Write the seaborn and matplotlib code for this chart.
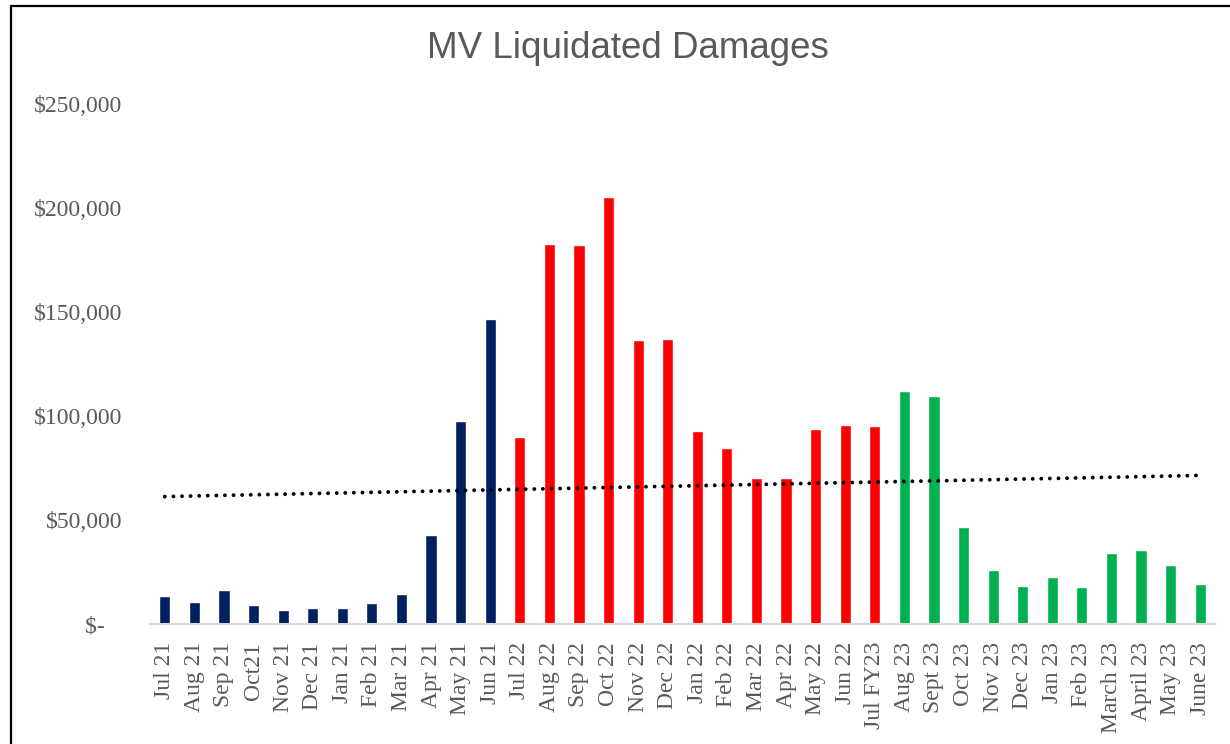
import numpy as np
import pandas as pd
import matplotlib
matplotlib.use("Agg")
import matplotlib.pyplot as plt
from matplotlib.lines import Line2D
from matplotlib.ticker import FuncFormatter
import seaborn as sns

# month labels as shown on the x axis
months = ['Jul 21', 'Aug 21', 'Sep 21', 'Oct21', 'Nov 21', 'Dec 21', 'Jan 21', 'Feb 21',
          'Mar 21', 'Apr 21', 'May 21', 'Jun 21',
          'Jul 22', 'Aug 22', 'Sep 22', 'Oct 22', 'Nov 22', 'Dec 22', 'Jan 22', 'Feb 22',
          'Mar 22', 'Apr 22', 'May 22', 'Jun 22', 'Jul FY23',
          'Aug 23', 'Sept 23', 'Oct 23', 'Nov 23', 'Dec 23', 'Jan 23', 'Feb 23',
          'March 23', 'April 23', 'May 23', 'June 23']

# liquidated damages per fiscal year
fy22_values = [13600, 10700, 16400, 8900, 6600, 7800, 7600, 9900, 14200, 42900, 97700, 146500]
fy23_values = [89700, 182900, 182100, 205500, 136600, 136800, 93000, 84400, 70000, 70000,
               93700, 95900, 95400]
fy24_values = [111800, 109400, 46400, 26200, 18500, 22400, 18000, 33900, 35700, 28500, 19000]

fy_colors = ['#002060', '#FF0000', '#00B050']

values = fy22_values + fy23_values + fy24_values
bar_colors = ([fy_colors[0]] * len(fy22_values) + [fy_colors[1]] * len(fy23_values)
              + [fy_colors[2]] * len(fy24_values))

df = pd.DataFrame({'Month': months, 'Damages': values})

sns.set_style('white')
fig = plt.figure(figsize=(12.3, 7.44), dpi=100)
ax = fig.add_axes([150 / 1230, 120 / 744, 1065 / 1230, 520 / 744])

sns.barplot(data=df, x='Month', y='Damages', hue='Month', palette=bar_colors,
            legend=False, width=0.38, saturation=1, ax=ax)

# linear trendline like excel
xs = np.arange(len(values))
slope, intercept = np.polyfit(xs, values, 1)
ax.plot(xs, slope * xs + intercept, color='black', linewidth=2.8,
        linestyle=(0, (0.01, 2.2)), dash_capstyle='round')

ax.set_ylim(0, 250000)
ax.set_xlim(-0.5, len(values) - 0.5)
ax.set_yticks(np.arange(0, 250001, 50000))


def money(v, pos):
    if v == 0:
        return '$-   '
    return f'${v:,.0f}'


ax.yaxis.set_major_formatter(FuncFormatter(money))

for lbl in ax.get_xticklabels() + ax.get_yticklabels():
    lbl.set_fontfamily('Liberation Serif')
    lbl.set_fontsize(17)
    lbl.set_color('#595959')
plt.setp(ax.get_xticklabels(), rotation=90)
ax.tick_params(axis='both', length=0)
ax.tick_params(axis='x', pad=13)
ax.tick_params(axis='y', pad=20)

ax.set_xlabel('')
ax.set_ylabel('')
for side in ['left', 'right', 'top']:
    ax.spines[side].set_visible(False)
ax.spines['bottom'].set_color('#D9D9D9')
ax.spines['bottom'].set_linewidth(1.5)
ax.grid(False)

fig.text(628 / 1230, 1 - 49 / 744, 'MV Liquidated Damages', ha='center', va='center',
         fontsize=26.5, color='#595959', fontfamily='Liberation Sans')

# chart border (top and left edges visible in the crop)
fig.add_artist(Line2D([11 / 1230, 1.0], [1 - 6 / 744, 1 - 6 / 744], color='black',
                      linewidth=1.6, transform=fig.transFigure))
fig.add_artist(Line2D([11 / 1230, 11 / 1230], [0, 1 - 6 / 744], color='black',
                      linewidth=1.6, transform=fig.transFigure))

fig.savefig('out.png', dpi=100)
